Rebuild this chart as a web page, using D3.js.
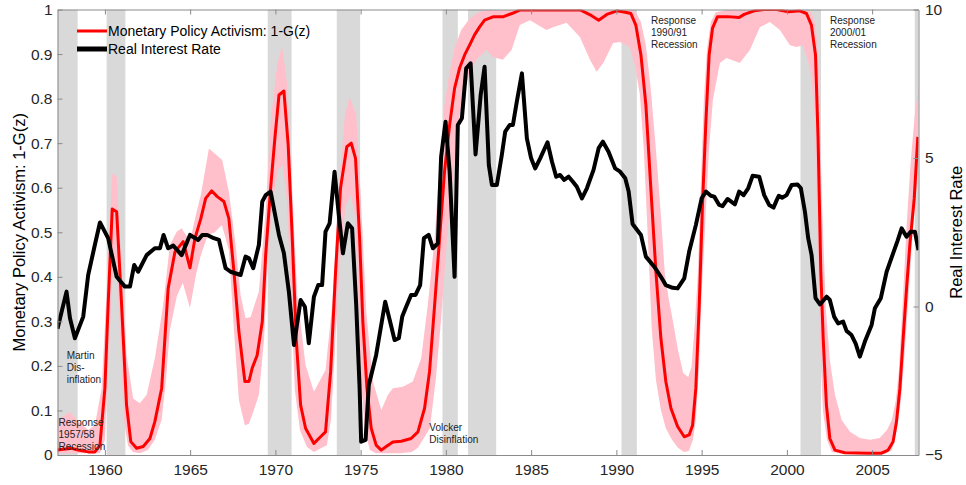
<!DOCTYPE html>
<html><head><meta charset="utf-8">
<script src="https://cdn.jsdelivr.net/npm/d3@7"></script>
<style>body{margin:0;background:#fff}svg{display:block}text{font-family:"Liberation Sans",Arial,Helvetica,sans-serif}</style>
</head><body><svg id="c" width="966" height="485"></svg>
<script>
// ---------- DATA ----------
const yearTicks = [1960,1965,1970,1975,1980,1985,1990,1995,2000,2005];
const leftTicks = [0,0.1,0.2,0.3,0.4,0.5,0.6,0.7,0.8,0.9,1];
const rightTicks = [-5,0,5,10];

const recStart = [1957.2,1960.1,1969.55,1973.6,1979.8,1981.3,1990.3,2000.8,2007.5];
const recEnd   = [1958.4,1961.2,1970.95,1974.97,1980.7,1982.95,1991.2,2002.0,2007.8];

const gYears = [1957.22,1958.05,1958.43,1959.02,1959.41,1959.71,1960.0,1960.19,1960.43,1960.69,1960.98,1961.27,1961.52,1961.86,1962.25,1962.64,1962.93,1963.33,1963.71,1964.11,1964.59,1964.99,1965.28,1965.63,1965.91,1966.26,1966.59,1966.98,1967.27,1967.57,1967.86,1968.21,1968.45,1968.64,1968.93,1969.23,1969.43,1969.72,1969.97,1970.21,1970.5,1970.75,1970.99,1971.22,1971.48,1971.77,1972.26,1972.65,1972.94,1973.24,1973.53,1973.82,1974.19,1974.45,1974.7,1974.94,1975.13,1975.37,1975.62,1975.91,1976.21,1976.5,1976.89,1977.38,1977.96,1978.36,1978.75,1979.04,1979.34,1979.63,1979.92,1980.22,1980.51,1980.8,1981.1,1981.39,1981.68,1981.98,1982.27,1982.8,1983.38,1983.87,1984.36,1985.92,1987.88,1988.46,1988.96,1989.44,1990.03,1990.52,1990.85,1991.14,1991.44,1991.73,1992.02,1992.32,1992.61,1992.9,1993.2,1993.59,1993.98,1994.27,1994.47,1994.66,1994.86,1995.05,1995.25,1995.44,1995.64,1995.93,1996.52,1997.2,1997.5,1998.08,1998.67,1999.41,2000.08,2000.76,2001.15,2001.44,2001.68,2001.83,2001.99,2002.13,2002.32,2002.52,2002.82,2003.4,2004.77,2005.55,2005.94,2006.23,2006.43,2006.63,2006.82,2007.02,2007.21,2007.47,2007.68];
const gValues = [0.011,0.015,0.011,0.007,0.007,0.022,0.15,0.337,0.552,0.546,0.337,0.112,0.030,0.015,0.019,0.037,0.075,0.15,0.374,0.456,0.479,0.42,0.486,0.531,0.576,0.593,0.58,0.569,0.531,0.411,0.277,0.165,0.165,0.195,0.224,0.299,0.449,0.599,0.711,0.808,0.817,0.696,0.486,0.262,0.112,0.06,0.026,0.041,0.052,0.187,0.411,0.599,0.692,0.70,0.666,0.486,0.299,0.15,0.06,0.022,0.011,0.019,0.029,0.031,0.037,0.052,0.105,0.187,0.337,0.486,0.636,0.741,0.823,0.868,0.898,0.92,0.943,0.961,0.976,0.984,0.984,0.991,0.999,0.999,0.999,0.988,0.976,0.989,0.997,0.994,0.991,0.965,0.898,0.786,0.599,0.411,0.262,0.165,0.105,0.064,0.041,0.045,0.067,0.15,0.337,0.561,0.748,0.898,0.958,0.984,0.984,0.982,0.989,0.997,1.0,1.0,0.995,0.997,0.991,0.965,0.898,0.711,0.411,0.262,0.112,0.037,0.011,0.005,0.004,0.004,0.011,0.03,0.075,0.15,0.262,0.374,0.471,0.576,0.714];

const upYears = [1957.22,1957.95,1958.43,1959.02,1959.41,1959.81,1960.16,1960.43,1960.69,1960.98,1961.27,1961.66,1962.05,1962.45,1962.93,1963.42,1963.81,1964.21,1964.5,1964.99,1965.38,1965.63,1966.1,1966.88,1967.27,1967.67,1967.96,1968.25,1968.55,1969.03,1969.43,1969.72,1970.11,1970.4,1970.69,1970.99,1971.28,1971.77,1972.26,1972.94,1973.33,1973.72,1974.08,1974.35,1974.74,1975.03,1975.33,1975.72,1976.21,1976.6,1976.89,1977.48,1978.06,1978.55,1978.94,1979.34,1979.63,1979.92,1980.22,1980.51,1980.9,1981.39,1981.98,1982.52,1988.9,1990.9,1991.14,1991.44,1991.73,1992.02,1992.32,1992.61,1992.84,1993.08,1993.34,1993.61,1993.92,1994.21,1994.41,1994.6,1994.78,1994.96,1995.13,1995.31,1995.54,1995.83,1996.5,2001.15,2001.44,2001.69,2001.87,2002.05,2002.29,2002.52,2002.82,2003.21,2003.7,2004.28,2004.87,2005.45,2005.87,2006.16,2006.39,2006.57,2006.8,2007.04,2007.27,2007.5,2007.72];
const upValues = [0.079,0.097,0.075,0.056,0.067,0.15,0.411,0.632,0.625,0.426,0.224,0.127,0.116,0.135,0.217,0.337,0.471,0.501,0.509,0.479,0.546,0.584,0.688,0.662,0.591,0.471,0.359,0.307,0.31,0.367,0.546,0.748,0.879,0.917,0.831,0.591,0.359,0.202,0.142,0.191,0.337,0.599,0.763,0.804,0.763,0.561,0.322,0.165,0.101,0.135,0.15,0.153,0.165,0.217,0.337,0.486,0.651,0.786,0.86,0.913,0.954,0.98,0.995,0.999,0.997,0.999,0.994,0.972,0.92,0.82,0.685,0.539,0.408,0.348,0.296,0.236,0.184,0.175,0.198,0.296,0.408,0.617,0.797,0.909,0.972,0.994,0.999,0.999,0.994,0.965,0.864,0.572,0.325,0.213,0.135,0.079,0.052,0.038,0.034,0.038,0.056,0.079,0.123,0.19,0.348,0.527,0.662,0.763,0.825];

const loYears = [1957.22,1959.71,1960.0,1960.29,1960.5,1960.69,1960.88,1961.11,1961.35,1961.64,1962.05,1962.52,1962.93,1963.33,1963.58,1963.81,1964.22,1964.57,1964.99,1965.34,1965.63,1966.04,1966.45,1966.86,1967.27,1967.57,1967.86,1968.21,1968.45,1968.74,1969.03,1969.33,1969.56,1969.85,1970.15,1970.44,1970.67,1970.91,1971.14,1971.44,1971.85,1972.26,1972.73,1973.02,1973.26,1973.55,1973.84,1974.13,1974.43,1974.66,1974.84,1975.01,1975.25,1975.54,1975.89,1977.3,1978.0,1978.36,1978.65,1979.06,1979.41,1979.71,1980.0,1980.23,1980.53,1980.82,1981.41,1981.88,1982.39,1982.76,1983.34,1983.85,1984.34,1984.93,1985.9,1986.28,1987.08,1987.86,1988.45,1988.84,1989.23,1989.81,1990.21,1990.79,1991.14,1991.38,1991.61,1991.85,1992.08,1992.32,1992.61,1992.9,1993.26,1993.61,1993.96,1994.25,1994.49,1994.66,1994.84,1995.01,1995.19,1995.43,1995.66,1996.07,1996.46,1997.24,1997.83,1998.42,1999.0,1999.59,2000.18,2000.57,2000.94,2001.35,2001.64,2001.82,2001.94,2002.11,2002.35,2002.64,2003.4,2005.75,2006.16,2006.45,2006.69,2006.92,2007.16,2007.39,2007.72];
const loValues = [0.004,0.004,0.034,0.28,0.44,0.43,0.28,0.08,0.022,0.007,0.004,0.011,0.034,0.079,0.168,0.28,0.357,0.386,0.33,0.404,0.449,0.494,0.5,0.516,0.46,0.28,0.123,0.067,0.07,0.101,0.135,0.258,0.438,0.572,0.64,0.651,0.572,0.37,0.146,0.056,0.018,0.007,0.016,0.022,0.079,0.28,0.46,0.561,0.584,0.539,0.37,0.168,0.056,0.011,0.004,0.004,0.007,0.016,0.034,0.06,0.17,0.3,0.45,0.56,0.66,0.763,0.864,0.891,0.909,0.893,0.887,0.909,0.965,0.976,0.954,0.96,0.97,0.938,0.887,0.86,0.88,0.925,0.927,0.916,0.864,0.808,0.685,0.483,0.28,0.168,0.101,0.06,0.034,0.016,0.007,0.009,0.034,0.079,0.19,0.37,0.505,0.685,0.797,0.88,0.891,0.88,0.909,0.96,0.972,0.954,0.92,0.916,0.92,0.871,0.759,0.46,0.258,0.101,0.034,0.007,0.002,0.002,0.011,0.056,0.123,0.236,0.37,0.505,0.65];

const rateYears = [1957.22,1957.75,1957.95,1958.24,1958.73,1959.02,1959.41,1959.71,1960.19,1960.69,1961.17,1961.47,1961.72,1961.95,1962.45,1962.93,1963.23,1963.44,1963.71,1964.01,1964.5,1964.99,1965.47,1965.71,1966.0,1966.39,1966.69,1967.08,1967.37,1967.96,1968.25,1968.45,1968.7,1969.03,1969.23,1969.43,1969.72,1970.21,1970.5,1970.79,1971.09,1971.48,1971.73,1971.96,1972.26,1972.51,1972.74,1972.94,1973.18,1973.47,1973.72,1973.96,1974.25,1974.5,1974.74,1974.94,1975.03,1975.29,1975.48,1975.91,1976.44,1976.73,1976.99,1977.24,1977.44,1977.67,1977.96,1978.22,1978.49,1978.71,1978.99,1979.24,1979.53,1979.72,1979.98,1980.22,1980.51,1980.7,1980.94,1981.19,1981.45,1981.74,1982.04,1982.27,1982.52,1982.7,1982.99,1983.28,1983.48,1983.74,1983.93,1984.16,1984.46,1984.75,1985.0,1985.24,1985.53,1985.96,1986.22,1986.47,1986.7,1986.94,1987.2,1987.45,1987.68,1987.98,1988.27,1988.66,1988.96,1989.21,1989.54,1989.93,1990.22,1990.52,1990.72,1990.95,1991.44,1991.73,1992.22,1992.61,1992.9,1993.3,1993.59,1993.98,1994.27,1994.66,1995.0,1995.25,1995.54,1995.74,1996.03,1996.23,1996.52,1996.95,1997.2,1997.46,1997.73,1997.99,1998.38,1998.67,1998.96,1999.22,1999.41,1999.53,1999.72,1999.98,2000.28,2000.63,2000.82,2001.06,2001.25,2001.45,2001.68,2001.94,2002.33,2002.52,2002.77,2003.01,2003.3,2003.5,2003.79,2004.03,2004.28,2004.57,2004.97,2005.16,2005.51,2005.85,2006.23,2006.49,2006.73,2007.02,2007.27,2007.51,2007.72];
const rateValues = [-0.75,0.50,-0.39,-1.07,-0.34,1.06,2.07,2.83,2.30,1.00,0.67,0.67,1.40,1.17,1.73,1.96,1.96,2.41,1.96,2.05,1.73,2.41,2.24,2.41,2.41,2.30,2.24,1.29,1.17,1.06,1.68,1.62,1.29,2.07,3.53,3.75,3.87,2.41,1.79,0.50,-1.30,0.22,-0.01,-1.24,0.33,0.72,0.72,2.52,2.80,4.54,3.08,1.79,2.80,2.63,0.05,-2.75,-4.55,-4.49,-2.64,-1.63,0.16,-0.51,-1.13,-1.07,-0.34,-0.01,0.39,0.39,0.72,2.30,2.41,1.96,2.13,5.04,6.22,4.54,1.00,6.11,6.34,8.02,8.19,5.12,7.12,8.07,4.76,4.09,4.09,5.10,5.89,6.11,6.11,6.90,7.85,5.66,4.99,4.65,4.99,5.53,4.88,4.37,4.43,4.26,4.37,4.20,4.03,3.64,3.98,4.60,5.33,5.55,5.21,4.65,4.54,4.32,3.87,2.78,2.41,1.68,1.34,1.00,0.72,0.63,0.61,0.95,1.85,2.74,3.64,3.87,3.73,3.70,3.42,3.38,3.62,3.44,3.87,3.75,3.98,4.40,4.37,3.75,3.42,3.33,3.59,3.73,3.66,3.75,4.09,4.11,3.98,3.19,2.30,1.73,0.28,0.07,0.33,0.22,-0.34,-0.57,-0.51,-0.82,-0.96,-1.24,-1.69,-1.19,-0.62,-0.06,0.28,1.17,1.79,2.21,2.63,2.35,2.52,2.52,1.90];

const legendLabels = ["Monetary Policy Activism: 1-G(z)","Real Interest Rate"];
const notes = [
  {year:1957.28, val:0.074, lines:["Response","1957/58","Recession"]},
  {year:1957.76, val:0.224, lines:["Martin","Dis-","inflation"]},
  {year:1979.03, val:0.061, lines:["Volcker","Disinflation"]},
  {year:1992.03, val:0.976, lines:["Response","1990/91","Recession"]},
  {year:2002.53, val:0.976, lines:["Response","2000/01","Recession"]}
];

// ---------- CHART ----------
const svg = d3.select("#c");
const L=57.5, R=918.5, T=9.5, B=455;
const x = d3.scaleLinear().domain([1957.22,2007.72]).range([L,R]);
const yL = d3.scaleLinear().domain([0,1]).range([B,T]);
const yR = d3.scaleLinear().domain([-5,10]).range([B,T]);

svg.append("defs").append("clipPath").attr("id","clip")
  .append("rect").attr("x",L).attr("y",T).attr("width",R-L).attr("height",B-T);
const plot = svg.append("g").attr("clip-path","url(#clip)");

// recession bands
plot.selectAll("rect.rec").data(recStart.map((s,i)=>[s,recEnd[i]])).enter()
  .append("rect").attr("class","rec")
  .attr("x",d=>x(d[0])).attr("width",d=>x(d[1])-x(d[0]))
  .attr("y",T).attr("height",B-T).attr("fill","#d9d9d9");

// confidence band
const upPts = upYears.map((yr,i)=>[yr,upValues[i]]);
const loPts = loYears.map((yr,i)=>[yr,loValues[i]]).reverse();
const bandLine = d3.line().x(d=>x(d[0])).y(d=>yL(d[1]));
plot.append("path").attr("d",bandLine(upPts.concat(loPts))+"Z")
  .attr("fill","#ffc0cb").attr("stroke","none");

// activism line
plot.append("path").datum(gYears.map((yr,i)=>[yr,gValues[i]]))
  .attr("d",d3.line().x(d=>x(d[0])).y(d=>yL(d[1])))
  .attr("fill","none").attr("stroke","#ff0000").attr("stroke-width",3).attr("stroke-linejoin","round");

// real rate line
plot.append("path").datum(rateYears.map((yr,i)=>[yr,rateValues[i]]))
  .attr("d",d3.line().x(d=>x(d[0])).y(d=>yR(d[1])))
  .attr("fill","none").attr("stroke","#000").attr("stroke-width",4).attr("stroke-linejoin","round");

// axes
const axColor="#8a8a8a", txtColor="#262626", fs="15.5px";
function style(g){
  g.select(".domain").attr("stroke",axColor);
  g.selectAll(".tick line").attr("stroke",axColor);
  g.selectAll(".tick text").attr("fill",txtColor).style("font-size",fs)
   .style("font-family","'Liberation Sans',Arial,sans-serif");
}
svg.append("g").attr("transform",`translate(0,${B})`)
  .call(d3.axisBottom(x).tickValues(yearTicks).tickFormat(d3.format("d")).tickSize(-5).tickSizeOuter(0).tickPadding(9)).call(style);
svg.append("g").attr("transform",`translate(0,${T})`)
  .call(d3.axisTop(x).tickValues(yearTicks).tickFormat("").tickSize(-5).tickSizeOuter(0)).call(style);
svg.append("g").attr("transform",`translate(${L},0)`)
  .call(d3.axisLeft(yL).tickValues(leftTicks).tickFormat(d=>String(+d.toFixed(1))).tickSize(-5).tickSizeOuter(0).tickPadding(5)).call(style);
svg.append("g").attr("transform",`translate(${R},0)`)
  .call(d3.axisRight(yR).tickValues(rightTicks).tickFormat(d3.format("d")).tickSize(-5).tickSizeOuter(0).tickPadding(6.5)).call(style);

// axis titles
svg.append("text").attr("transform",`translate(19,${(T+B)/2}) rotate(-90)`)
  .attr("text-anchor","middle").attr("dy","0.35em").style("font-size","16.5px").attr("fill","#000")
  .text("Monetary Policy Activism: 1-G(z)");
svg.append("text").attr("transform",`translate(956,${(T+B)/2}) rotate(-90)`)
  .attr("text-anchor","middle").attr("dy","0.35em").style("font-size","16.5px").attr("fill","#000")
  .text("Real Interest Rate");

// legend
const leg = svg.append("g");
const legColors=["#ff0000","#000"], legW=[3,5], legY=[31,49];
legendLabels.forEach((lab,i)=>{
  leg.append("line").attr("x1",77).attr("x2",107).attr("y1",legY[i]).attr("y2",legY[i])
    .attr("stroke",legColors[i]).attr("stroke-width",legW[i]);
  leg.append("text").attr("x",108).attr("y",legY[i]).attr("dy","0.36em")
    .style("font-size","14px").attr("fill","#000").text(lab);
});

// annotations
notes.forEach(n=>{
  const t = svg.append("text").attr("x",x(n.year)).attr("y",yL(n.val))
    .style("font-size","10px").attr("fill","#222");
  n.lines.forEach((ln,j)=>{
    t.append("tspan").attr("x",x(n.year)).attr("dy",j===0?"0.35em":"1.2em").text(ln);
  });
});
</script></body></html>
